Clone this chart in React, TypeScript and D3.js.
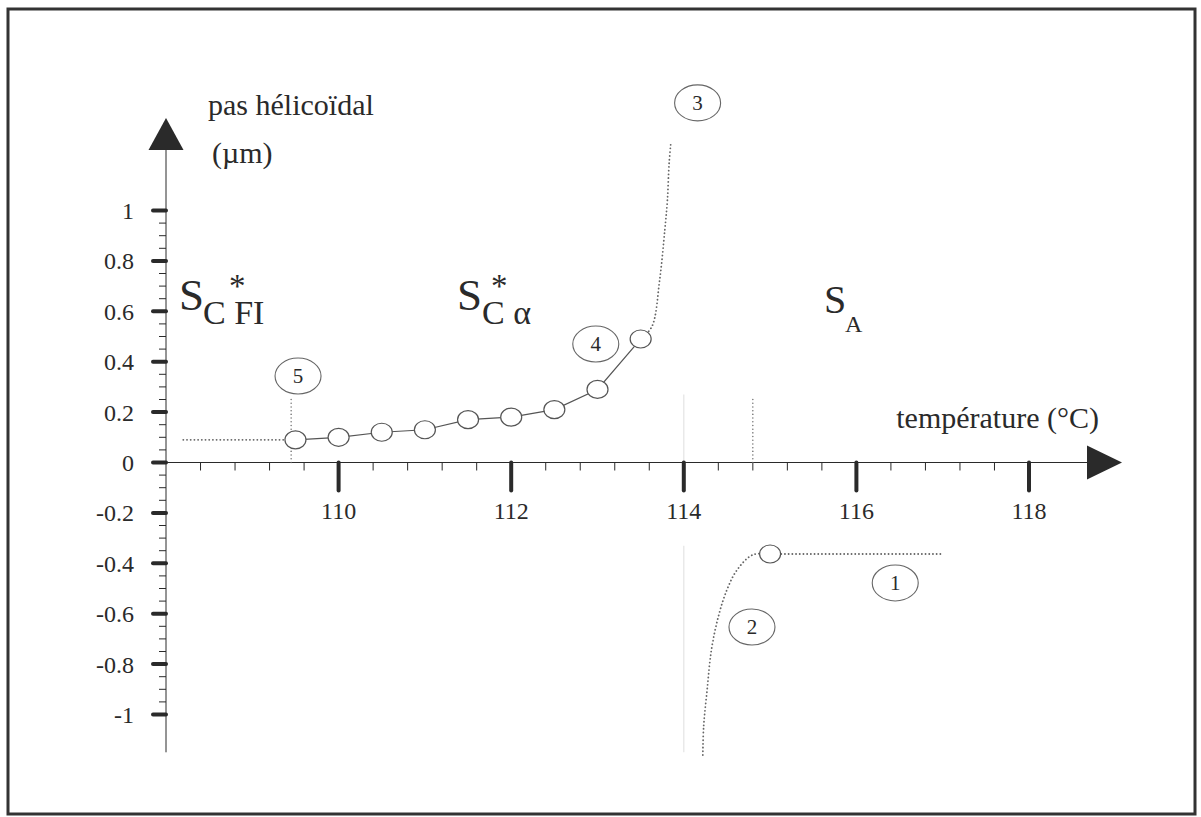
import React from "react";
import * as d3 from "d3";

// Helical pitch of the chiral smectic phases versus temperature
const pitchTemps = [109.5, 110, 110.5, 111, 111.5, 112, 112.5, 113, 113.5];
const pitchValues = [0.09, 0.1, 0.12, 0.13, 0.17, 0.18, 0.21, 0.29, 0.49];

// Divergence of the pitch on approaching the transition (branch 3)
const divergeTemps = [113.5, 113.63, 113.72, 113.78, 113.81, 113.83, 113.85];
const divergeValues = [0.49, 0.539, 0.724, 0.923, 1.042, 1.188, 1.268];

// Negative branch on the SA side (branch 2) and its plateau (branch 1)
const negTemps = [115, 114.8, 114.62, 114.5, 114.4, 114.32, 114.27, 114.23, 114.22];
const negValues = [-0.363, -0.366, -0.425, -0.505, -0.612, -0.744, -0.903, -1.048, -1.173];
const negPointTemp = [115];
const negPointValue = [-0.363];
const plateauTemps = [115, 117];
const plateauValues = [-0.363, -0.363];

// Lead-in plateau in the SC*FI phase
const leadTemps = [108.2, 109.5];
const leadValues = [0.09, 0.09];

// Axis ticks
const xMajorTicks = [110, 112, 114, 116, 118];
const yMajorTicks = [1, 0.8, 0.6, 0.4, 0.2, 0, -0.2, -0.4, -0.6, -0.8, -1];
const yTickLabels = ["1", "0.8", "0.6", "0.4", "0.2", "0", "-0.2", "-0.4", "-0.6", "-0.8", "-1"];

// Numbered callouts
const calloutIds = ["1", "2", "3", "4", "5"];
const calloutTemps = [116.45, 114.79, 114.16, 112.98, 109.53];
const calloutValues = [-0.478, -0.653, 1.427, 0.47, 0.343];

// Vertical dotted markers (transition temperatures)
const markerTemps = [109.45, 114.8];
const markerTop = [0.25, 0.25];

const W = 1201;
const H = 817;
const ink = "#2a2a2a";
const serif = "'Liberation Serif', 'Times New Roman', serif";

export default function App() {
  const x = d3.scaleLinear().domain([108, 118]).range([166, 1029]);
  const y = d3.scaleLinear().domain([-1, 1]).range([714.5, 210.5]);

  const x0 = x(108);
  const y0 = y(0);

  const xMinor = d3.range(108.4, 117.7, 0.4).filter(
    (v) => !xMajorTicks.some((m) => Math.abs(m - v) < 1e-6)
  );
  const yMinor = d3.range(-1, 1.0001, 0.05).filter(
    (v) => !yMajorTicks.some((m) => Math.abs(m - v) < 1e-6)
  );

  const line = d3
    .line<[number, number]>()
    .x((d) => x(d[0]))
    .y((d) => y(d[1]));
  const smooth = d3
    .line<[number, number]>()
    .x((d) => x(d[0]))
    .y((d) => y(d[1]))
    .curve(d3.curveCatmullRom);

  const zip = (a: number[], b: number[]) => a.map((v, i) => [v, b[i]] as [number, number]);

  const dotted = {
    fill: "none",
    stroke: "#666",
    strokeWidth: 1.8,
    strokeDasharray: "0.1 3.6",
    strokeLinecap: "round" as const,
  };

  return (
    <svg
      width={W}
      height={H}
      style={{ position: "absolute", left: 0, top: 0, background: "#fff" }}
      fontFamily={serif}
    >
      <rect x={8} y={9} width={1187} height={805} fill="#fff" stroke="#333" strokeWidth={3} />

      {/* faint guide at 114 °C */}
      <line x1={x(114)} x2={x(114)} y1={y(0.27)} y2={y0} stroke="#e4e4e4" strokeWidth={1.2} />
      <line x1={x(114)} x2={x(114)} y1={y(-0.33)} y2={y(-1.15)} stroke="#e4e4e4" strokeWidth={1.2} />

      {/* axes */}
      <line x1={x0} x2={x0} y1={y(-1.15)} y2={150} stroke={ink} strokeWidth={1} />
      <path d={`M${x0},118 L${x0 + 17.5},150 L${x0 - 17.5},150 Z`} fill={ink} />
      <line x1={x0} x2={1090} y1={y0} y2={y0} stroke={ink} strokeWidth={1} />
      <path d={`M1122,${y0} L1087,${y0 - 17} L1087,${y0 + 17} Z`} fill={ink} />

      {/* x ticks */}
      {xMinor.map((v, i) => (
        <line key={"xm" + i} x1={x(v)} x2={x(v)} y1={y0} y2={y0 + 8} stroke={ink} strokeWidth={1} />
      ))}
      {xMajorTicks.map((v) => (
        <g key={"xM" + v}>
          <line x1={x(v)} x2={x(v)} y1={y0} y2={y0 + 28} stroke={ink} strokeWidth={4} strokeLinecap="round" />
          <text x={x(v)} y={519} textAnchor="middle" fontSize={24} fill={ink}>
            {v}
          </text>
        </g>
      ))}

      {/* y ticks */}
      {yMinor.map((v, i) => (
        <line key={"ym" + i} x1={x0 - 7} x2={x0} y1={y(v)} y2={y(v)} stroke={ink} strokeWidth={1} />
      ))}
      {yMajorTicks.map((v, i) => (
        <g key={"yM" + v}>
          <line x1={x0 - 13} x2={x0} y1={y(v)} y2={y(v)} stroke={ink} strokeWidth={4} strokeLinecap="round" />
          <text x={134} y={y(v)} dy="0.35em" textAnchor="end" fontSize={24} fill={ink}>
            {yTickLabels[i]}
          </text>
        </g>
      ))}

      {/* axis titles */}
      <text x={208} y={115} fontSize={30} fill={ink}>
        pas hélicoïdal
      </text>
      <text x={212} y={163} fontSize={30} fill={ink}>
        (µm)
      </text>
      <text x={1099} y={428} textAnchor="end" fontSize={30} fill={ink}>
        température (°C)
      </text>

      {/* phase names */}
      <g fill={ink}>
        <text x={179} y={310} fontSize={45}>
          S
          <tspan x={229} y={297} fontSize={33}>*</tspan>
          <tspan x={203} y={324} fontSize={34}>C FI</tspan>
        </text>
        <text x={457} y={310} fontSize={45}>
          S
          <tspan x={491} y={297} fontSize={33}>*</tspan>
          <tspan x={482} y={324} fontSize={34}>C α</tspan>
        </text>
        <text x={824} y={313} fontSize={40}>
          S
          <tspan x={845} y={332} fontSize={24}>A</tspan>
        </text>
      </g>

      {/* dotted markers and branches */}
      {markerTemps.map((t, i) => (
        <line key={"mk" + i} x1={x(t)} x2={x(t)} y1={y(markerTop[i])} y2={y0} {...dotted} strokeWidth={1.4} />
      ))}
      <path d={line(zip(leadTemps, leadValues)) || ""} {...dotted} />
      <path d={smooth(zip(divergeTemps, divergeValues)) || ""} {...dotted} />
      <path d={smooth(zip(negTemps, negValues)) || ""} {...dotted} />
      <path d={line(zip(plateauTemps, plateauValues)) || ""} {...dotted} />

      {/* measured pitch */}
      <path d={line(zip(pitchTemps, pitchValues)) || ""} fill="none" stroke="#555" strokeWidth={1.2} />
      {pitchTemps.map((t, i) => (
        <ellipse key={"p" + i} cx={x(t)} cy={y(pitchValues[i])} rx={10.5} ry={9} fill="#fff" stroke="#555" strokeWidth={1.2} />
      ))}
      {negPointTemp.map((t, i) => (
        <ellipse key={"n" + i} cx={x(t)} cy={y(negPointValue[i])} rx={10.5} ry={9} fill="#fff" stroke="#555" strokeWidth={1.2} />
      ))}

      {/* numbered callouts */}
      {calloutIds.map((id, i) => (
        <g key={"c" + id} transform={`translate(${x(calloutTemps[i])},${y(calloutValues[i])})`}>
          <ellipse rx={23} ry={18} fill="#fff" stroke="#666" strokeWidth={1.1} />
          <text y={0} dy="0.35em" textAnchor="middle" fontSize={21} fill={ink}>
            {id}
          </text>
        </g>
      ))}
    </svg>
  );
}
